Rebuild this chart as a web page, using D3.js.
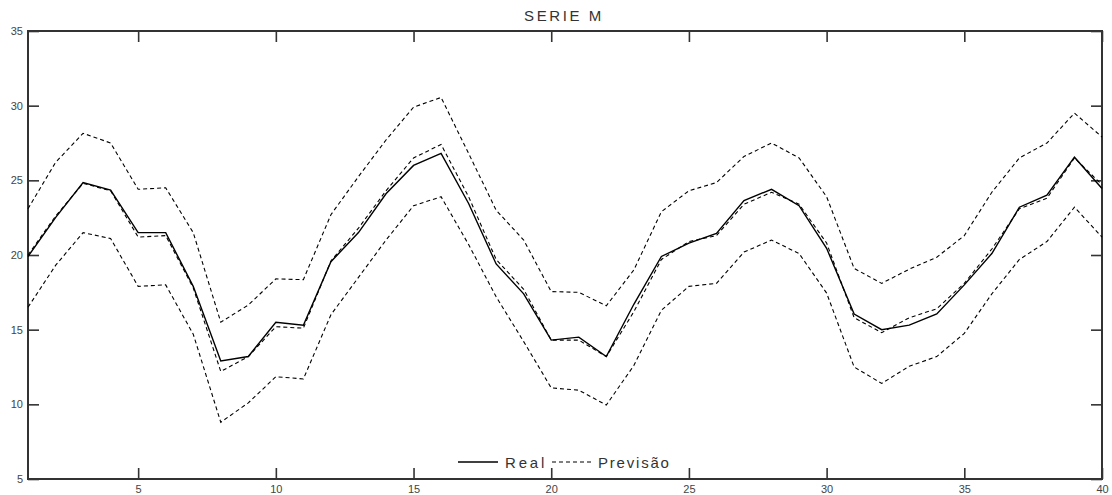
<!DOCTYPE html>
<html>
<head>
<meta charset="utf-8">
<script src="https://cdn.jsdelivr.net/npm/d3@7"></script>
<style>
  html, body { margin: 0; padding: 0; background: #fff; }
  svg { display: block; }
  text { font-family: Arial, "Liberation Sans", sans-serif; }
</style>
</head>
<body>
<svg id="chart" width="1112" height="495"></svg>
<script>
const title = "SERIE M";
const periods = d3.range(1, 41);
const real = [19.9, 22.5, 24.85, 24.35, 21.5, 21.5, 17.9, 12.9, 13.2, 15.5,
              15.3, 19.55, 21.5, 24.1, 26.0, 26.8, 23.45, 19.4, 17.4, 14.3,
              14.5, 13.2, 16.7, 19.9, 20.8, 21.45, 23.65, 24.4, 23.3, 20.45,
              16.05, 15.0, 15.3, 16.05, 18.0, 20.1, 23.2, 24.0, 26.55, 24.45];
const previsao = [20.0, 22.6, 24.8, 24.3, 21.2, 21.3, 17.8, 12.2, 13.2, 15.2,
                  15.1, 19.6, 21.8, 24.3, 26.5, 27.4, 23.9, 19.7, 17.7, 14.3,
                  14.3, 13.2, 16.2, 19.7, 20.9, 21.3, 23.4, 24.2, 23.4, 20.8,
                  15.8, 14.8, 15.8, 16.4, 18.1, 20.4, 23.1, 23.8, 26.5, 24.7];
const upper = [23.1, 26.2, 28.15, 27.5, 24.4, 24.5, 21.5, 15.5, 16.65, 18.4,
               18.35, 22.7, 25.25, 27.7, 29.9, 30.55, 26.8, 23.0, 21.0, 17.55,
               17.5, 16.6, 19.0, 22.9, 24.3, 24.85, 26.6, 27.5, 26.5, 23.9,
               19.1, 18.1, 19.05, 19.85, 21.3, 24.2, 26.5, 27.5, 29.5, 27.9];
const lower = [16.5, 19.3, 21.5, 21.1, 17.9, 18.0, 14.7, 8.8, 10.1, 11.85,
               11.7, 16.0, 18.5, 21.0, 23.3, 23.9, 20.7, 17.2, 14.2, 11.1,
               10.95, 9.95, 12.6, 16.3, 17.9, 18.1, 20.2, 21.0, 20.1, 17.45,
               12.5, 11.4, 12.55, 13.2, 14.75, 17.4, 19.7, 20.9, 23.2, 21.2];
const xTicks = [5, 10, 15, 20, 25, 30, 35, 40];
const yTicks = [5, 10, 15, 20, 25, 30, 35];
const legendLabels = ["Real", "Previsão"];

const svg = d3.select("#chart");
const mLeft = 28, mRight = 1102, mTop = 31, mBottom = 479;

const x = d3.scaleLinear().domain([1, 40]).range([mLeft, mRight]);
const y = d3.scaleLinear().domain([5, 35]).range([mBottom, mTop]);

const frameColor = "#333";
const tickLen = 11;

// frame
svg.append("rect")
  .attr("x", mLeft).attr("y", mTop)
  .attr("width", mRight - mLeft).attr("height", mBottom - mTop)
  .attr("fill", "none").attr("stroke", frameColor).attr("stroke-width", 2);

function styleAxis(g) {
  g.select(".domain").remove();
  g.selectAll(".tick line").attr("stroke", frameColor).attr("stroke-width", 1.6);
  g.selectAll(".tick text").attr("fill", "#444").attr("font-size", 11)
    .attr("font-family", "Arial, 'Liberation Sans', sans-serif");
}

svg.append("g").attr("transform", `translate(0,${mBottom})`)
  .call(d3.axisBottom(x).tickValues(xTicks).tickSize(-tickLen).tickPadding(6).tickFormat(d3.format("d")))
  .call(styleAxis);
svg.append("g").attr("transform", `translate(0,${mTop})`)
  .call(d3.axisTop(x).tickValues(xTicks).tickSize(-tickLen).tickFormat(""))
  .call(styleAxis);
svg.append("g").attr("transform", `translate(${mLeft},0)`)
  .call(d3.axisLeft(y).tickValues(yTicks).tickSize(-tickLen).tickPadding(5).tickFormat(d3.format("d")))
  .call(styleAxis);
svg.append("g").attr("transform", `translate(${mRight},0)`)
  .call(d3.axisRight(y).tickValues(yTicks).tickSize(-tickLen).tickFormat(""))
  .call(styleAxis);

// lines
const line = vals => d3.line().x((d, i) => x(periods[i])).y(d => y(d))(vals);

const dashed = "4,3";
[upper, lower].forEach(s => {
  svg.append("path").attr("d", line(s)).attr("fill", "none")
    .attr("stroke", "#000").attr("stroke-width", 1.1).attr("stroke-dasharray", dashed);
});
svg.append("path").attr("d", line(previsao)).attr("fill", "none")
  .attr("stroke", "#000").attr("stroke-width", 1.1).attr("stroke-dasharray", dashed);
svg.append("path").attr("d", line(real)).attr("fill", "none")
  .attr("stroke", "#000").attr("stroke-width", 1.4);

// title
svg.append("text").attr("x", 564).attr("y", 20.5).attr("text-anchor", "middle")
  .attr("font-size", 15).attr("letter-spacing", 2.6).attr("fill", "#333").text(title);

// legend
const lg = svg.append("g");
const ly = 462;
lg.append("line").attr("x1", 458).attr("x2", 498).attr("y1", ly).attr("y2", ly)
  .attr("stroke", "#000").attr("stroke-width", 1.4);
lg.append("text").attr("x", 505).attr("y", 467.5).attr("font-size", 15)
  .attr("letter-spacing", 2.8).attr("fill", "#333").text(legendLabels[0]);
lg.append("line").attr("x1", 552).attr("x2", 592).attr("y1", ly).attr("y2", ly)
  .attr("stroke", "#000").attr("stroke-width", 1.1).attr("stroke-dasharray", dashed);
lg.append("text").attr("x", 598).attr("y", 467.5).attr("font-size", 15)
  .attr("letter-spacing", 1.8).attr("fill", "#333").text(legendLabels[1]);
</script>
</body>
</html>
